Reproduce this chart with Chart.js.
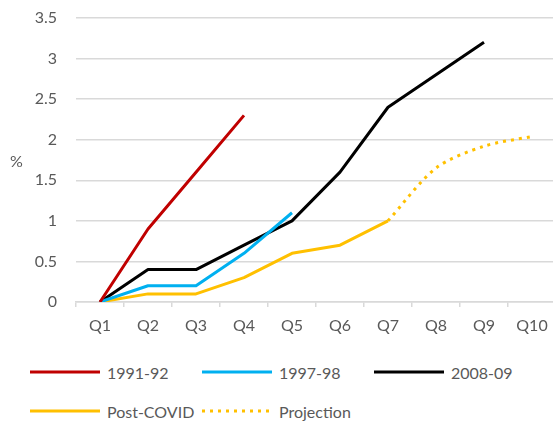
<!DOCTYPE html>
<html>
<head>
<meta charset="utf-8">
<script src="https://cdn.jsdelivr.net/npm/chart.js@4"></script>
<style>
  body { margin: 0; background: #fff; width: 553px; height: 421px; overflow: hidden; position: relative; font-family: Lato, sans-serif; color: #595959; }
  #wrap { position: absolute; left: 0; top: 0; width: 556px; height: 345px; }
  #ytitle { position: absolute; left: 10px; top: 151px; font-size: 16px; }
  #legend { position: absolute; left: 30px; top: 360px; display: grid; grid-template-columns: 172px 172px 172px; row-gap: 15px; }
  .item { display: flex; align-items: center; height: 24px; font-size: 16px; white-space: nowrap; }
  .item svg { margin-right: 7px; }
</style>
</head>
<body>
<div id="wrap"><canvas id="LineChart"></canvas></div>
<div id="ytitle">%</div>
<div id="legend"></div>
<script>
// 분기 라벨
const quarters = ['Q1', 'Q2', 'Q3', 'Q4', 'Q5', 'Q6', 'Q7', 'Q8', 'Q9', 'Q10'];
// 각 시기별 누적 값 (%)
const s1991 = [0, 0.9, 1.6, 2.3];
const s1997 = [0, 0.2, 0.2, 0.6, 1.1];
const s2008 = [0, 0.4, 0.4, 0.7, 1.0, 1.6, 2.4, 2.8, 3.2];
const postCovid = [0, 0.1, 0.1, 0.3, 0.6, 0.7, 1.0];
const projection = [null, null, null, null, null, null, 1.0, 1.65, 1.92, 2.04];
const yTicks = [0, 0.5, 1, 1.5, 2, 2.5, 3, 3.5];

const line_chart = () => {
    const ctx = document.getElementById('LineChart');
    if (!ctx) return;

    const base = { fill: false, pointRadius: 0, borderWidth: 3, tension: 0, borderJoinStyle: 'round' };

    const chart = new Chart(ctx, {
        type: 'line',
        data: {
            labels: quarters,
            datasets: [
                { ...base, label: '1991-92', data: s1991, borderColor: '#C00000' },
                { ...base, label: '1997-98', data: s1997, borderColor: '#00B0F0' },
                { ...base, label: '2008-09', data: s2008, borderColor: '#000000' },
                { ...base, label: 'Post-COVID', data: postCovid, borderColor: '#FFC000' },
                { ...base, label: 'Projection', data: projection, borderColor: '#FFC000', borderDash: [3, 5], tension: 0.3 }
            ]
        },
        options: {
            responsive: true,
            maintainAspectRatio: false,
            animation: false,
            layout: { padding: { top: 18, right: 0, bottom: 0, left: 0 } },
            plugins: {
                legend: { display: false },
                tooltip: { enabled: false }
            },
            scales: {
                x: {
                    offset: true,
                    grid: { offset: true, drawOnChartArea: false, tickLength: 5, color: '#d9d9d9', lineWidth: 1.5 },
                    border: { color: '#d9d9d9', width: 1.5 },
                    ticks: { color: '#595959', font: { family: 'Lato', size: 16 }, padding: 9, maxRotation: 0, autoSkip: false },
                    afterFit: (scale) => { scale.height = 43; scale.paddingLeft = 0; scale.paddingRight = 0; }
                },
                y: {
                    min: 0,
                    max: 3.5,
                    afterBuildTicks: (scale) => { scale.ticks = yTicks.map(v => ({ value: v })); },
                    grid: { drawTicks: false, color: '#d9d9d9', lineWidth: 1.5 },
                    border: { display: false },
                    ticks: {
                        color: '#595959', font: { family: 'Lato', size: 16 }, padding: 19,
                        callback: (v) => String(v)
                    },
                    // 위쪽 여백은 layout padding으로만 맞추기
                    afterFit: (scale) => { scale.width = 76; scale.paddingTop = 0; scale.paddingBottom = 0; }
                }
            }
        }
    });

    // 엑셀처럼 칸 맞춘 범례 따로 만들기
    const legend = document.getElementById('legend');
    chart.data.datasets.forEach(ds => {
        const item = document.createElement('div');
        item.className = 'item';
        const dash = ds.borderDash ? 'stroke-dasharray="3 5"' : '';
        item.innerHTML = `<svg width="70" height="6"><line x1="0" y1="3" x2="70" y2="3" stroke="${ds.borderColor}" stroke-width="3" ${dash}/></svg><span>${ds.label}</span>`;
        legend.appendChild(item);
    });
};

document.addEventListener('DOMContentLoaded', () => {
    line_chart();
});
</script>
</body>
</html>
